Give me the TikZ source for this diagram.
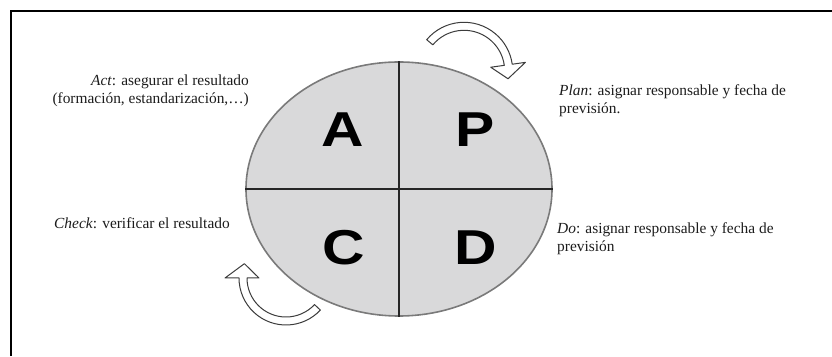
\documentclass[tikz,border=0pt]{standalone}
\usepackage{fontspec}
\setmainfont{Liberation Serif}
\newfontfamily\pdcafont[FakeStretch=1.2]{Liberation Sans}
\usepackage{tikz}
\usetikzlibrary{shapes.geometric,calc}

\definecolor{cyclefill}{HTML}{D9D9DA}
\definecolor{cycleline}{HTML}{7A7A7A}
\definecolor{textgray}{HTML}{1C1C1C}
\definecolor{arrowline}{HTML}{3C3C3C}

\begin{document}
\begin{tikzpicture}[x=1pt,y=1pt,
  phase/.style={font=\pdcafont\bfseries\fontsize{49}{49}\selectfont, text=black, inner sep=0pt},
  note/.style={font=\fontsize{15.4}{18}\selectfont, text=textgray, inner sep=0pt},
  divline/.style={draw=black!85, line width=1.3pt},
  turn/.style={draw=arrowline, fill=white, line width=1pt, line join=round}]
  \useasboundingbox (0,0) rectangle (832,356);
  % frame
  \draw[line width=1.6pt] (11,0) -- (11,345) -- (832,345);
  % cycle
  \node[ellipse, draw=cycleline, fill=cyclefill, line width=1.6pt,
    minimum width=306pt, minimum height=254pt] (cyc) at (399,167) {};
  \draw[divline] (cyc.north) -- (cyc.south);
  \draw[divline] (cyc.west) -- (cyc.east);
  \node[phase] (A) at (343,226) {A};
  \node[phase] (P) at (475,226) {P};
  \node[phase] (C) at (344,108) {C};
  \node[phase] (D) at (476,108) {D};
  % notes
  \node[note, anchor=east, align=right] (act) at (249,265)
    {\textit{Act}: asegurar el resultado\\(formación, estandarización,\dots)};
  \node[note, anchor=west, align=left] (plan) at (559,255)
    {\textit{Plan}: asignar responsable y fecha de\\previsión.};
  \node[note, anchor=west] (check) at (54,133) {\textit{Check}: verificar el resultado};
  \node[note, anchor=west, align=left] (do) at (557,117)
    {\textit{Do}: asignar responsable y fecha de\\previsión};
  % turning arrows
  \coordinate (t1) at (464,285);
  \coordinate (t2) at (286,78);
  \draw[turn] ($(t1)+(140:48.7pt)$) arc[start angle=140, end angle=8, radius=48.7pt]
    -- ($(t1)+(8:62pt)$) -- ($(t1)+(-10:44.7pt)$) -- ($(t1)+(8:27pt)$)
    -- ($(t1)+(8:40.7pt)$) arc[start angle=8, end angle=140, radius=40.7pt] -- cycle;
  \draw[turn] ($(t2)+(-43:47pt)$) arc[start angle=-43, end angle=-180, radius=47pt]
    -- ($(t2)+(-180:61pt)$) -- ($(t2)+(-199:44pt)$) -- ($(t2)+(-180:27pt)$)
    -- ($(t2)+(-180:39pt)$) arc[start angle=-180, end angle=-43, radius=39pt] -- cycle;
\end{tikzpicture}
\end{document}
